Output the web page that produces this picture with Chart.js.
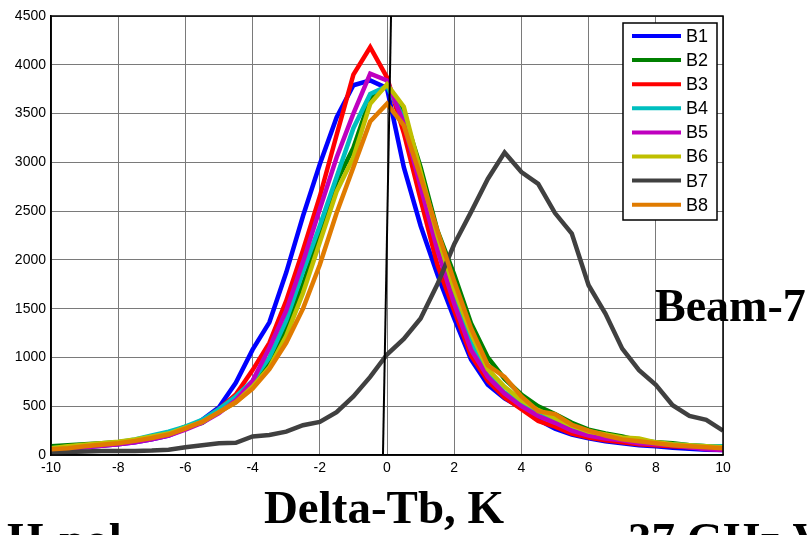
<!DOCTYPE html>
<html>
<head>
<meta charset="utf-8">
<script src="https://cdn.jsdelivr.net/npm/chart.js@4.4.0/dist/chart.umd.min.js"></script>
<style>
  html, body { margin: 0; padding: 0; background: #fff; }
  #wrap { width: 809px; height: 535px; }
</style>
</head>
<body>
<div id="wrap"><canvas id="beamChart" width="809" height="535"></canvas></div>
<script>
// Delta-Tb bins, K
const deltaTb = [-10, -9.5, -9, -8.5, -8, -7.5, -7, -6.5, -6, -5.5, -5, -4.5, -4, -3.5, -3, -2.5, -2, -1.5, -1, -0.5,
  0, 0.5, 1, 1.5, 2, 2.5, 3, 3.5, 4, 4.5, 5, 5.5, 6, 6.5, 7, 7.5, 8, 8.5, 9, 9.5, 10];

// counts per beam
const b1 = [60, 70, 80, 95, 110, 130, 160, 200, 270, 360, 490, 740, 1080, 1360, 1870, 2450, 2980, 3460, 3790, 3840,
  3760, 2950, 2350, 1850, 1400, 980, 720, 580, 480, 360, 270, 210, 170, 140, 120, 100, 90, 75, 65, 55, 50];
const b2 = [90, 100, 110, 120, 130, 150, 180, 220, 290, 330, 450, 580, 720, 950, 1300, 1750, 2250, 2800, 3150, 3650,
  3790, 3500, 2950, 2300, 1850, 1350, 1000, 780, 620, 500, 420, 330, 260, 220, 190, 150, 130, 120, 100, 90, 80];
const b3 = [60, 75, 90, 100, 115, 140, 170, 210, 270, 350, 470, 620, 870, 1150, 1580, 2100, 2650, 3280, 3900, 4180,
  3870, 3300, 2620, 1950, 1480, 1020, 760, 590, 470, 350, 290, 220, 180, 150, 130, 110, 100, 90, 80, 70, 60];
const b4 = [70, 85, 100, 115, 130, 160, 200, 240, 290, 360, 470, 600, 760, 1000, 1380, 1880, 2350, 2850, 3350, 3700,
  3780, 3450, 2800, 2150, 1600, 1150, 820, 640, 540, 420, 350, 270, 220, 190, 160, 140, 120, 110, 100, 90, 90];
const b5 = [50, 60, 80, 95, 110, 130, 160, 200, 260, 330, 430, 560, 760, 1100, 1480, 1980, 2520, 3050, 3500, 3910,
  3840, 3400, 2750, 2100, 1550, 1080, 800, 630, 500, 400, 330, 250, 200, 170, 150, 120, 110, 100, 80, 60, 50];
const b6 = [70, 90, 105, 120, 135, 160, 190, 220, 280, 340, 440, 540, 700, 900, 1220, 1660, 2180, 2700, 3050, 3600,
  3800, 3570, 2900, 2250, 1700, 1250, 880, 700, 560, 460, 380, 300, 240, 210, 180, 170, 130, 110, 100, 90, 80];
const b7 = [20, 30, 35, 40, 40, 40, 45, 55, 80, 100, 120, 125, 190, 205, 240, 305, 340, 440, 600, 800,
  1030, 1190, 1400, 1750, 2160, 2490, 2830, 3100, 2900, 2780, 2480, 2270, 1740, 1450, 1090, 870, 720, 510, 400, 360, 250];
const b8 = [60, 70, 90, 105, 120, 145, 175, 210, 270, 340, 440, 540, 680, 880, 1150, 1500, 1950, 2480, 2950, 3420,
  3600, 3380, 2850, 2300, 1780, 1300, 920, 800, 600, 450, 420, 310, 250, 200, 160, 140, 120, 100, 90, 80, 70];

// thin black reference line
const refX = [-0.12, 0.12];
const refY = [0, 4500];

const beamNames = ["B1", "B2", "B3", "B4", "B5", "B6", "B7", "B8"];
const beamColors = ["#0000ff", "#008000", "#ff0000", "#00bfbf", "#bf00bf", "#bfbf00", "#404040", "#e07b00"];
const beamData = [b1, b2, b3, b4, b5, b6, b7, b8];

const xTicks = [-10, -8, -6, -4, -2, 0, 2, 4, 6, 8, 10];
const yTicks = [0, 500, 1000, 1500, 2000, 2500, 3000, 3500, 4000, 4500];

const datasets = beamData.map((vals, i) => ({
  label: beamNames[i],
  data: vals.map((v, j) => ({ x: deltaTb[j], y: v })),
  borderColor: beamColors[i],
  backgroundColor: beamColors[i],
  borderWidth: 4.5,
  pointRadius: 0,
  tension: 0,
  fill: false,
  order: -i
}));
datasets.push({
  label: "ref",
  data: refX.map((x, j) => ({ x: x, y: refY[j] })),
  borderColor: "#000",
  borderWidth: 2,
  pointRadius: 0,
  fill: false,
  order: -20
});

// frame round the plot + legend box inside the plot
const framePlugin = {
  id: "frame",
  afterDraw(chart) {
    const ctx = chart.ctx;
    const a = chart.chartArea;
    ctx.save();
    ctx.strokeStyle = "#000";
    ctx.lineWidth = 1.5;
    ctx.strokeRect(a.left, a.top, a.right - a.left, a.bottom - a.top);

    // legend
    const bx = 623, by = 23, bw = 94, bh = 197;
    ctx.fillStyle = "#fff";
    ctx.fillRect(bx, by, bw, bh);
    ctx.strokeRect(bx, by, bw, bh);
    ctx.font = "18px 'Liberation Sans', Arial, sans-serif";
    ctx.textBaseline = "middle";
    ctx.textAlign = "left";
    beamNames.forEach((name, i) => {
      const y = 36 + i * 24.1;
      ctx.strokeStyle = beamColors[i];
      ctx.lineWidth = 4;
      ctx.beginPath();
      ctx.moveTo(632, y);
      ctx.lineTo(681, y);
      ctx.stroke();
      ctx.fillStyle = "#000";
      ctx.fillText(name, 686, y + 1);
    });

    // texts
    ctx.fillStyle = "#000";
    ctx.font = "bold 47px 'Liberation Serif', 'Times New Roman', serif";
    ctx.textBaseline = "alphabetic";
    ctx.textAlign = "center";
    ctx.fillText("Delta-Tb, K", 384, 523);
    ctx.textAlign = "left";
    ctx.font = "bold 46px 'Liberation Serif', 'Times New Roman', serif";
    ctx.fillText("Beam-7", 655, 321);
    ctx.font = "bold 47px 'Liberation Serif', 'Times New Roman', serif";
    ctx.fillText("H-pol", 7, 555);
    ctx.fillText("37 GHz V-pol", 628, 555);
    ctx.restore();
  }
};

const ctx = document.getElementById("beamChart").getContext("2d");
new Chart(ctx, {
  type: "line",
  data: { datasets: datasets },
  options: {
    responsive: false,
    animation: false,
    layout: { padding: { top: 16, right: 86, left: 0, bottom: 0 } },
    plugins: {
      legend: { display: false },
      tooltip: { enabled: false }
    },
    scales: {
      x: {
        type: "linear",
        min: -10,
        max: 10,
        afterBuildTicks: s => { s.ticks = xTicks.map(v => ({ value: v })); },
        afterFit: s => { s.height = 80; },
        grid: { color: "#7a7a7a", lineWidth: 1, drawTicks: false },
        border: { color: "#000", width: 1.5 },
        ticks: {
          padding: 5,
          color: "#000",
          font: { family: "'Liberation Sans', Arial, sans-serif", size: 14 },
          maxRotation: 0,
          callback: v => String(v)
        }
      },
      y: {
        min: 0,
        max: 4500,
        afterBuildTicks: s => { s.ticks = yTicks.map(v => ({ value: v })); },
        afterFit: s => { s.width = 51; },
        grid: { color: "#7a7a7a", lineWidth: 1, drawTicks: false },
        border: { color: "#000", width: 1.5 },
        ticks: {
          padding: 5,
          color: "#000",
          font: { family: "'Liberation Sans', Arial, sans-serif", size: 14 },
          callback: v => String(v)
        }
      }
    }
  },
  plugins: [framePlugin]
});
</script>
</body>
</html>
